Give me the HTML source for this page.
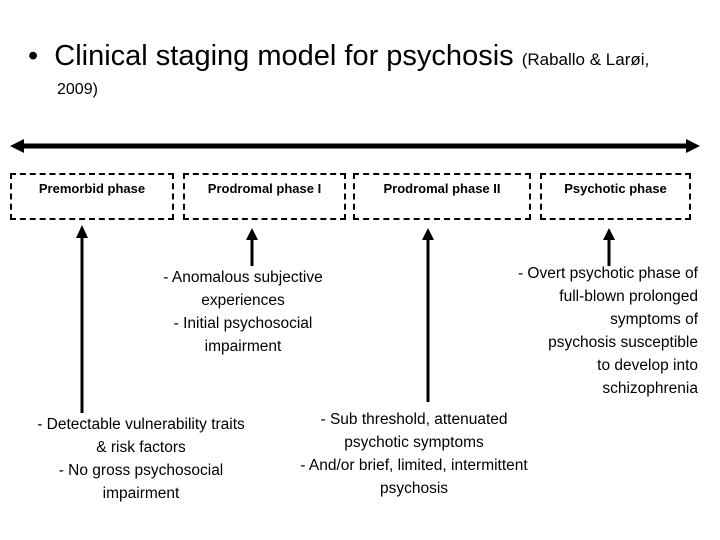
<!DOCTYPE html>
<html><head><meta charset="utf-8"><style>
body{margin:0;width:720px;height:540px;background:#fff;position:relative;overflow:hidden;font-family:"Liberation Sans",sans-serif;color:#000}
.t{position:absolute;white-space:nowrap}
.box{position:absolute;border:2px dashed #000;box-sizing:border-box;top:173px;height:47px;text-align:center;font-weight:bold;font-size:13px;padding-top:6px}
.c{position:absolute;text-align:center;font-size:15.5px;line-height:23px;white-space:nowrap}
</style></head><body>
<div class="t" style="left:28px;top:40px;font-size:29px">•&nbsp; Clinical staging model for psychosis <span style="font-size:17px">(Raballo &amp; Larøi,</span></div>
<div class="t" style="left:57px;top:81px;font-size:16px">2009)</div>
<svg width="720" height="540" style="position:absolute;left:0;top:0">
<line x1="20" y1="146" x2="690" y2="146" stroke="#000" stroke-width="5"/>
<polygon points="10,146 24,139 24,153" fill="#000"/>
<polygon points="700,146 686,139 686,153" fill="#000"/>
<g stroke="#000" stroke-width="3">
<line x1="82" y1="236" x2="82" y2="413"/>
<line x1="252" y1="238" x2="252" y2="266"/>
<line x1="428" y1="238" x2="428" y2="402"/>
<line x1="609" y1="238" x2="609" y2="266"/>
</g>
<g fill="#000">
<polygon points="82,225 76,238 88,238"/>
<polygon points="252,228 246,240 258,240"/>
<polygon points="428,228 422,240 434,240"/>
<polygon points="609,228 603,240 615,240"/>
</g>
</svg>
<div class="box" style="left:10px;width:164px">Premorbid phase</div>
<div class="box" style="left:183px;width:163px">Prodromal phase I</div>
<div class="box" style="left:353px;width:178px">Prodromal phase II</div>
<div class="box" style="left:540px;width:151px">Psychotic phase</div>
<div class="c" style="left:143px;top:266px;width:200px">- Anomalous subjective<br>experiences<br>- Initial psychosocial<br>impairment</div>
<div class="c" style="left:470px;top:262px;width:228px;text-align:right">- Overt psychotic phase of<br>full-blown prolonged<br>symptoms of<br>psychosis susceptible<br>to develop into<br>schizophrenia</div>
<div class="c" style="left:20px;top:413px;width:242px">- Detectable vulnerability traits<br>&amp; risk factors<br>- No gross psychosocial<br>impairment</div>
<div class="c" style="left:278px;top:408px;width:272px">- Sub threshold, attenuated<br>psychotic symptoms<br>- And/or brief, limited, intermittent<br>psychosis</div>
</body></html>
